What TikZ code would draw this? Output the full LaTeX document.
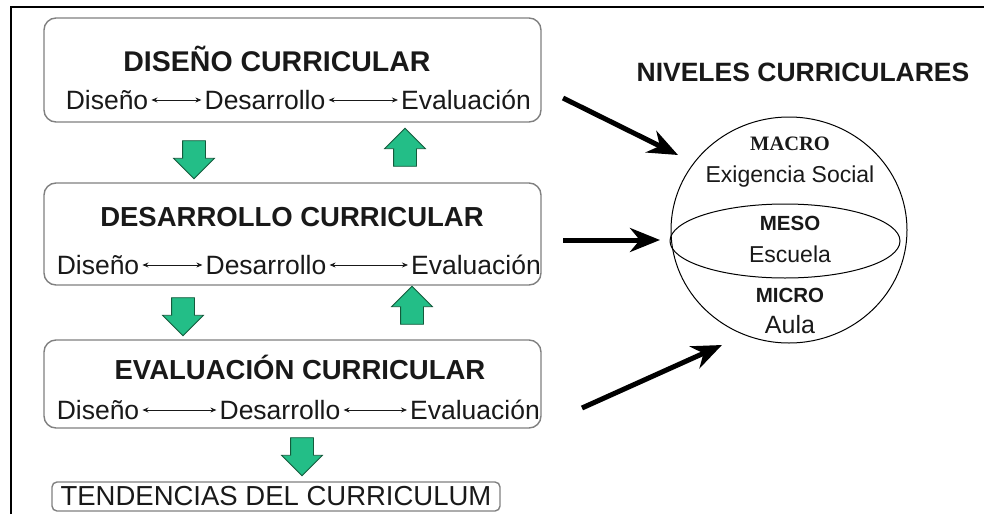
\documentclass[tikz,border=0pt]{standalone}
\usepackage{fontspec}
\setmainfont{Liberation Sans}
\newfontfamily\serifa{Liberation Serif}
\usetikzlibrary{shapes.geometric,shapes.arrows,arrows.meta}
\definecolor{verde}{RGB}{35,190,135}
\definecolor{verdeosc}{RGB}{20,90,60}
\definecolor{texto}{RGB}{25,25,25}
\definecolor{borde}{RGB}{128,128,128}

\begin{document}
\begin{tikzpicture}[x=1pt,y=-1pt,
	caja/.style={draw=borde, line width=1.4pt, rounded corners=12pt},
	titulo/.style={font=\fontsize{27.5}{32}\selectfont\bfseries, text=texto},
	fila/.style={font=\fontsize{26.5}{32}\selectfont, text=texto, inner sep=3pt},
	doble/.style={{Stealth[length=6pt,width=5pt]}-{Stealth[length=6pt,width=5pt]}, line width=0.8pt, texto},
	flechaverde/.style={single arrow, draw=verdeosc, fill=verde, line width=0.8pt, minimum height=38pt, single arrow head extend=9pt, inner xsep=4pt, inner ysep=11pt},
	flechanegra/.style={-{Stealth[length=30pt,width=24pt]}, line width=5pt},
	nivel/.style={font=\fontsize{20.5}{24}\selectfont\bfseries, text=texto},
	lugar/.style={font=\fontsize{23}{28}\selectfont, text=texto}]
	
	\useasboundingbox (0,0) rectangle (984,514);
	
	% Marco
	\draw[line width=2.5pt] (11,514) -- (11,7) -- (984,7);
	
	% Diseño curricular
	\node[caja, minimum width=497, minimum height=104] (caja1) at (292.5,70) {};
	\node[titulo, font=\fontsize{28.5}{32}\selectfont\bfseries] (tit1) at (277,59) {DISEÑO CURRICULAR};
	\node[fila] (dis1) at (107,100) {Diseño};
	\node[fila] (des1) at (265,100) {Desarrollo};
	\node[fila] (eva1) at (466,100) {Evaluación};
	\draw[doble] (dis1) -- (des1);
	\draw[doble] (des1) -- (eva1);
	
	% Desarrollo curricular
	\node[caja, minimum width=497, minimum height=102] (caja2) at (292.5,234) {};
	\node[titulo] (tit2) at (292,217) {DESARROLLO CURRICULAR};
	\node[fila] (dis2) at (98,265) {Diseño};
	\node[fila] (des2) at (266,265) {Desarrollo};
	\node[fila] (eva2) at (476,265) {Evaluación};
	\draw[doble] (dis2) -- (des2);
	\draw[doble] (des2) -- (eva2);
	
	% Evaluacion curricular
	\node[caja, minimum width=497, minimum height=88] (caja3) at (292.5,384) {};
	\node[titulo] (tit3) at (300,367) {EVALUACIÓN CURRICULAR};
	\node[fila] (dis3) at (98,410) {Diseño};
	\node[fila] (des3) at (280,410) {Desarrollo};
	\node[fila] (eva3) at (475,410) {Evaluación};
	\draw[doble] (dis3) -- (des3);
	\draw[doble] (des3) -- (eva3);
	
	% Tendencias
	\node[caja, rounded corners=5pt, minimum width=448, minimum height=29, inner sep=0pt,
		font=\fontsize{27.5}{32}\selectfont, text=texto] (tend) at (276,496.5) {TENDENCIAS DEL CURRICULUM};
	
	% Flechas verdes
	\node[flechaverde, rotate=-90] (baja1) at (194,154) {};
	\node[flechaverde, rotate=90] (sube1) at (405,153) {};
	\node[flechaverde, rotate=-90] (baja2) at (183,311) {};
	\node[flechaverde, rotate=90] (sube2) at (412,311) {};
	\node[flechaverde, rotate=-90] (baja3) at (302,451) {};
	
	% Niveles curriculares
	\node[font=\fontsize{26.5}{32}\selectfont\bfseries, text=texto] (niv) at (803,72) {NIVELES CURRICULARES};
	\node[draw, ellipse, line width=1pt, minimum width=236, minimum height=226] (esfera) at (789,230) {};
	\node[draw, ellipse, line width=1pt, minimum width=230, minimum height=74] (franja) at (785,241) {};
	\node[text=texto, font=\fontsize{20.5}{24}\selectfont\serifa\bfseries] (macro) at (790,144) {MACRO};
	\node[lugar] (social) at (790,177) {Exigencia Social};
	\node[nivel] (meso) at (790,223) {MESO};
	\node[lugar] (escuela) at (790,254) {Escuela};
	\node[nivel] (micro) at (790,295) {MICRO};
	\node[lugar, font=\fontsize{25}{30}\selectfont] (aula) at (790,325) {Aula};
	
	% Flechas negras
	\coordinate (ini1) at (563,98);
	\coordinate (fin1) at (678,155);
	\coordinate (ini2) at (563,240);
	\coordinate (fin2) at (660,240);
	\coordinate (ini3) at (582,408);
	\coordinate (fin3) at (722,345);
	\draw[flechanegra] (ini1) -- (fin1);
	\draw[flechanegra] (ini2) -- (fin2);
	\draw[flechanegra] (ini3) -- (fin3);
	
\end{tikzpicture}
\end{document}
